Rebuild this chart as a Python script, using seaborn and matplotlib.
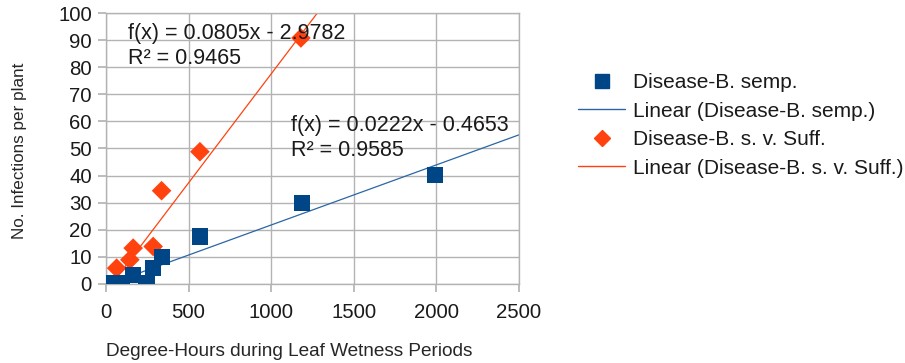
import numpy as np
import pandas as pd
import matplotlib
matplotlib.use("Agg")
import matplotlib.pyplot as plt
import seaborn as sns
from matplotlib.lines import Line2D

# valores
semp_x = [5, 45, 95, 165, 246, 285, 337, 569, 1185, 1992]
semp_y = [0.2, 0.0, 0.3, 3.3, 0.3, 5.8, 10.0, 17.5, 29.8, 40.2]
suff_x = [65, 145, 165, 286, 337, 569, 1180]
suff_y = [5.8, 8.9, 13.2, 13.8, 34.4, 48.8, 90.8]

# coeficientes das retas de tendencia (como no grafico)
semp_fit = (0.0222, -0.4653)
suff_fit = (0.0805, -2.9782)

nome_semp = "Disease-B. semp."
nome_suff = "Disease-B. s. v. Suff."

df = pd.concat([
    pd.DataFrame({"x": semp_x, "y": semp_y, "serie": nome_semp}),
    pd.DataFrame({"x": suff_x, "y": suff_y, "serie": nome_suff}),
])

azul = "#004586"
azul_linha = "#2a66a6"
laranja = "#ff420e"

sns.set_theme(style="whitegrid")
plt.rcParams["font.family"] = ["Liberation Sans", "DejaVu Sans"]

fig = plt.figure(figsize=(9.05, 3.63), dpi=100)
ax = fig.add_axes([0.117, 0.218, 0.4565, 0.746])

# retas de tendencia
xs = np.array([0, 2500])
ax.plot(xs, semp_fit[0] * xs + semp_fit[1], color=azul_linha, lw=0.9, zorder=2)
ax.plot(xs, suff_fit[0] * xs + suff_fit[1], color=laranja, lw=0.9, zorder=2)

sns.scatterplot(data=df[df["serie"] == nome_suff], x="x", y="y", color=laranja,
                marker="D", s=100, edgecolor="none", ax=ax, zorder=3, legend=False)
sns.scatterplot(data=df[df["serie"] == nome_semp], x="x", y="y", color=azul,
                marker="s", s=135, edgecolor="none", ax=ax, zorder=4, legend=False)

ax.set_xlim(0, 2500)
ax.set_ylim(0, 100)
ax.set_xticks(range(0, 2501, 500))
ax.set_yticks(range(0, 101, 10))
ax.set_facecolor("white")
ax.grid(True, color="#b3b3b3", lw=1)
for s in ax.spines.values():
    s.set_color("#b3b3b3")
    s.set_linewidth(1)
ax.tick_params(axis="both", which="both", length=6, color="#b3b3b3",
               labelsize=14.7, labelcolor="#1a1a1a", pad=4, direction="out")
ax.tick_params(axis="x", pad=8)
ax.tick_params(bottom=True, left=True)

ax.set_xlabel("Degree-Hours during Leaf Wetness Periods", fontsize=13.7)
ax.set_ylabel("No. Infections per plant", fontsize=12.3)
ax.xaxis.set_label_coords(0.443, -0.218)
ax.yaxis.set_label_coords(-0.19, 0.49)

ax.text(0.053, 0.963, "f(x) = 0.0805x - 2.9782\nR² = 0.9465", transform=ax.transAxes,
        fontsize=15.5, va="top", ha="left", linespacing=1.25, color="#1a1a1a")
ax.text(0.448, 0.622, "f(x) = 0.0222x - 0.4653\nR² = 0.9585", transform=ax.transAxes,
        fontsize=15.5, va="top", ha="left", linespacing=1.25, color="#1a1a1a")

handles = [
    Line2D([], [], color=azul, marker="s", ls="none", markersize=10),
    Line2D([], [], color=azul_linha, lw=1),
    Line2D([], [], color=laranja, marker="D", ls="none", markersize=8),
    Line2D([], [], color=laranja, lw=1),
]
labels = [nome_semp, "Linear (" + nome_semp + ")", nome_suff, "Linear (" + nome_suff + ")"]
leg = fig.legend(handles, labels, loc="upper left", bbox_to_anchor=(0.639, 0.799),
                 frameon=False, fontsize=15, handlelength=2.26, handletextpad=0.38,
                 labelspacing=0.46, borderaxespad=0, borderpad=0)
for t in leg.get_texts():
    t.set_color("#1a1a1a")

fig.savefig("out.png", dpi=100)
